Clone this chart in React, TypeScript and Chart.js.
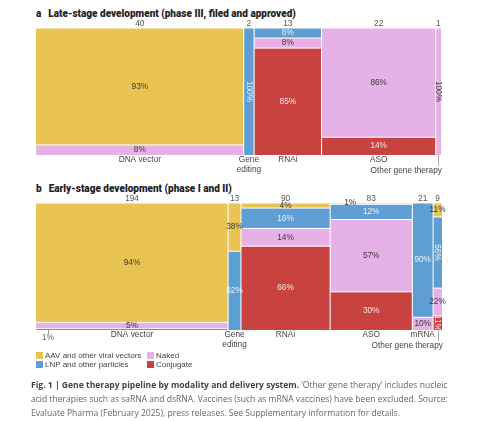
import React, { useEffect, useRef } from "react";
import { Chart, registerables } from "chart.js";
Chart.register(...registerables);

// ---------- DATA ----------
const series = ["AAV and other viral vectors", "LNP and other particles", "Naked", "Conjugate"];

const lateCategories = ["DNA vector", "Gene\nediting", "RNAi", "ASO", "Other gene therapy"];
const lateCounts = [40, 2, 13, 22, 1];
const lateAAV = [93, 0, 0, 0, 0];
const lateLNP = [0, 100, 8, 0, 0];
const lateNaked = [8, 0, 8, 86, 100];
const lateConjugate = [0, 0, 85, 14, 0];

const earlyCategories = ["DNA vector", "Gene\nediting", "RNAi", "ASO", "mRNA", "Other gene therapy"];
const earlyCounts = [194, 13, 90, 83, 21, 9];
const earlyAAV = [94, 38, 4, 1, 0, 11];
const earlyLNP = [0, 62, 16, 12, 90, 56];
const earlyNaked = [5, 0, 14, 57, 10, 22];
const earlyConjugate = [1, 0, 66, 30, 0, 11];

// ---------- STYLE ----------
const COLORS = ["#E9C453", "#5E9ED3", "#E5B1E6", "#C8423F"];
const LIGHT_TEXT = [false, true, false, true];
const FONT = "'Liberation Sans', Arial, sans-serif";
const DARK = "#3a3a3a";

type Override = { rot?: boolean; dx?: number; dy?: number; below?: number };
type PanelDef = {
  cats: string[];
  counts: number[];
  shares: number[][]; // [AAV, LNP, Naked, Conjugate]
  overrides: Record<string, Override>;
  otherIdx: number;
};

const latePanel: PanelDef = {
  cats: lateCategories,
  counts: lateCounts,
  shares: [lateAAV, lateLNP, lateNaked, lateConjugate],
  overrides: { "1-1": { rot: true }, "4-2": { rot: true } },
  otherIdx: 4,
};
const earlyPanel: PanelDef = {
  cats: earlyCategories,
  counts: earlyCounts,
  shares: [earlyAAV, earlyLNP, earlyNaked, earlyConjugate],
  overrides: {
    "0-3": { below: 12 },
    "3-0": { dx: -21, dy: -1 },
    "5-1": { rot: true },
    "5-3": { rot: true },
  },
  otherIdx: 5,
};

const STACK_ORDER = [3, 2, 1, 0]; // bottom -> top

function buildGeometry(p: PanelDef) {
  const segs: { s: number; col: number; x0: number; x1: number; y0: number; y1: number; v: number }[] = [];
  let x = 0;
  p.counts.forEach((c, i) => {
    const sum = p.shares.reduce((a, arr) => a + arr[i], 0);
    let cum = 0;
    STACK_ORDER.forEach((s) => {
      const v = p.shares[s][i];
      if (v > 0) {
        segs.push({ s, col: i, x0: x, x1: x + c, y0: (cum / sum) * 100, y1: ((cum + v) / sum) * 100, v });
        cum += v;
      }
    });
    x += c;
  });
  return { segs, total: x };
}

function MosaicChart({ panel, height, pad }: { panel: PanelDef; height: number; pad: { top: number; bottom: number; left: number; right: number } }) {
  const ref = useRef<HTMLCanvasElement | null>(null);
  useEffect(() => {
    if (!ref.current) return;
    const { segs, total } = buildGeometry(panel);
    const datasets: any[] = segs.map((g) => ({
      type: "line",
      data: [{ x: g.x0, y: g.y1 }, { x: g.x1, y: g.y1 }],
      fill: { value: g.y0 },
      backgroundColor: COLORS[g.s],
      borderColor: "#ffffff",
      borderWidth: 1,
      pointRadius: 0,
      order: 2,
    }));
    // white separators between columns
    let bx = 0;
    panel.counts.slice(0, -1).forEach((c) => {
      bx += c;
      datasets.push({
        type: "line",
        data: [{ x: bx, y: 0 }, { x: bx, y: 100 }],
        fill: false,
        borderColor: "#ffffff",
        borderWidth: 1,
        pointRadius: 0,
        order: 1,
      });
    });

    const labelPlugin = {
      id: "mosaicLabels",
      afterDatasetsDraw(chart: any) {
        const ctx = chart.ctx as CanvasRenderingContext2D;
        const xs = chart.scales.x;
        const ys = chart.scales.y;
        const area = chart.chartArea;
        ctx.save();
        ctx.font = `8.3px ${FONT}`;
        ctx.textBaseline = "middle";
        ctx.textAlign = "center";
        // segment labels
        segs.forEach((g) => {
          const key = `${g.col}-${g.s}`;
          const o = panel.overrides[key] || {};
          const px0 = xs.getPixelForValue(g.x0);
          const px1 = xs.getPixelForValue(g.x1);
          const cx = (px0 + px1) / 2 + (o.dx || 0);
          const cy = (ys.getPixelForValue(g.y0) + ys.getPixelForValue(g.y1)) / 2 + (o.dy || 0);
          const txt = `${g.v}%`;
          if (o.below !== undefined) {
            const lx = px0 + o.below;
            ctx.strokeStyle = "#999";
            ctx.lineWidth = 1;
            ctx.beginPath();
            ctx.moveTo(lx + 0.5, area.bottom);
            ctx.lineTo(lx + 0.5, area.bottom + 4);
            ctx.stroke();
            ctx.fillStyle = "#666";
            ctx.fillText(txt, lx, area.bottom + 8);
            return;
          }
          ctx.fillStyle = LIGHT_TEXT[g.s] ? "rgba(255,255,255,0.88)" : DARK;
          if (o.rot) {
            ctx.save();
            ctx.translate(cx, cy);
            ctx.rotate(Math.PI / 2);
            ctx.fillText(txt, 0, 0);
            ctx.restore();
          } else {
            ctx.fillText(txt, cx, cy);
          }
        });
        // counts and category labels
        let x = 0;
        panel.counts.forEach((c, i) => {
          const cx = (xs.getPixelForValue(x) + xs.getPixelForValue(x + c)) / 2;
          ctx.fillStyle = "#555";
          ctx.textAlign = "center";
          ctx.fillText(String(c), cx, area.top - 4);
          ctx.fillStyle = "#444";
          if (i === panel.otherIdx) {
            ctx.strokeStyle = "#aaa";
            ctx.lineWidth = 1;
            ctx.beginPath();
            ctx.moveTo(Math.round(cx) + 0.5, area.bottom);
            ctx.lineTo(Math.round(cx) + 0.5, area.bottom + 11);
            ctx.stroke();
            ctx.textAlign = "right";
            ctx.fillText(panel.cats[i], area.right + 1, area.bottom + 16);
          } else {
            panel.cats[i].split("\n").forEach((ln, k) => {
              ctx.fillText(ln, cx, area.bottom + 5 + k * 10);
            });
          }
          x += c;
        });
        ctx.restore();
      },
    };

    const chart = new Chart(ref.current, {
      type: "line",
      data: { datasets },
      options: {
        animation: false,
        responsive: false,
        events: [],
        layout: { padding: pad },
        scales: {
          x: { type: "linear", min: 0, max: total, display: false },
          y: { type: "linear", min: 0, max: 100, display: false },
        },
        plugins: { legend: { display: false }, tooltip: { enabled: false } },
      },
      plugins: [labelPlugin],
    } as any);
    return () => chart.destroy();
  }, [panel, height, pad]);
  return <canvas ref={ref} width={500} height={height} style={{ width: 500, height, display: "block" }} />;
}

const padA = { top: 28, bottom: 25, left: 36, right: 59 };
const padB = { top: 23, bottom: 22, left: 36, right: 58 };

const titleStyle: React.CSSProperties = {
  position: "absolute",
  left: 36,
  fontFamily: "Roboto, 'Liberation Sans', sans-serif",
  fontWeight: 900,
  fontSize: 10,
  color: "#222",
  whiteSpace: "nowrap",
  lineHeight: "12px",
};

function LegendItem({ color, label, x, y }: { color: string; label: string; x: number; y: number }) {
  return (
    <div style={{ position: "absolute", left: x, top: y, display: "flex", alignItems: "center", whiteSpace: "nowrap", fontFamily: FONT, fontSize: 8, color: "#444", lineHeight: "9px" }}>
      <span style={{ display: "inline-block", width: 7, height: 7, background: color, marginRight: 2 }} />
      {label}
    </div>
  );
}

export default function App() {
  const capStyle: React.CSSProperties = {
    position: "absolute",
    left: 31,
    fontFamily: "'Open Sans', sans-serif",
    fontSize: 8.55,
    color: "#666",
    whiteSpace: "nowrap",
    lineHeight: "14px",
  };
  return (
    <div style={{ position: "absolute", left: 0, top: 0, width: 500, height: 421, background: "#fff", overflow: "hidden" }}>
      <div style={{ ...titleStyle, top: 8 }}>
        <span style={{ marginRight: 7 }}>a</span>Late-stage development (phase III, filed and approved)
      </div>
      <div style={{ position: "absolute", left: 0, top: 0 }}>
        <MosaicChart panel={latePanel} height={180} pad={padA} />
      </div>
      <div style={{ ...titleStyle, top: 183 }}>
        <span style={{ marginRight: 7 }}>b</span>Early-stage development (phase I and II)
      </div>
      <div style={{ position: "absolute", left: 0, top: 180 }}>
        <MosaicChart panel={earlyPanel} height={172} pad={padB} />
      </div>
      <LegendItem color={COLORS[0]} label={series[0]} x={36} y={351} />
      <LegendItem color={COLORS[2]} label={series[2]} x={147} y={351} />
      <LegendItem color={COLORS[1]} label={series[1]} x={36} y={360} />
      <LegendItem color={COLORS[3]} label={series[3]} x={147} y={360} />
      <div style={{ ...capStyle, top: 378 }}>
        <b style={{ color: "#444" }}>Fig. 1 | Gene therapy pipeline by modality and delivery system.</b> ‘Other gene therapy’ includes nucleic
      </div>
      <div style={{ ...capStyle, top: 392 }}>
        acid therapies such as saRNA and dsRNA. Vaccines (such as mRNA vaccines) have been excluded. Source:
      </div>
      <div style={{ ...capStyle, top: 406 }}>
        Evaluate Pharma (February 2025), press releases. See Supplementary information for details.
      </div>
    </div>
  );
}
